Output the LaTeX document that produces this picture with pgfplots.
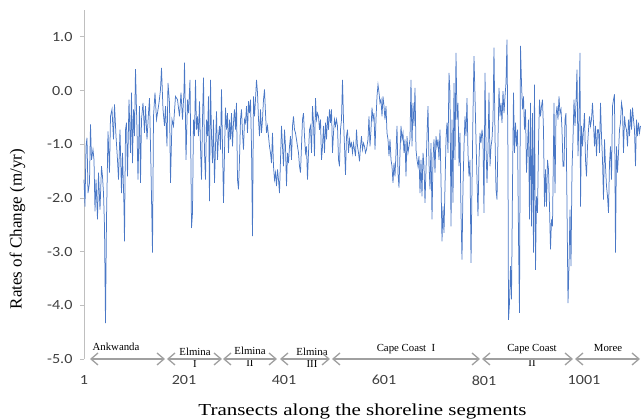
\documentclass[border=0pt]{standalone}
\usepackage{fontspec}
\setmainfont{Liberation Serif}
\newfontfamily\widerm[FakeStretch=1.25]{Liberation Serif}
\newfontfamily\tickfont[FakeStretch=1.15]{Carlito}
\usepackage{pgfplots}
\pgfplotsset{compat=1.18}
\usetikzlibrary{arrows.meta}

\definecolor{rate}{RGB}{74,120,198}
\definecolor{segarrow}{RGB}{160,160,160}
\definecolor{axgray}{RGB}{191,191,191}
\definecolor{ticktext}{RGB}{64,64,64}

\begin{document}
\begin{tikzpicture}
\begin{axis}[
    name=ax,
    scale only axis,
    width=557pt, height=349pt,
    xmin=1, xmax=1115, ymin=-5, ymax=1.5,
    clip=false,
    axis y line*=left,
    axis x line*=bottom,
    x axis line style={draw=none},
    y axis line style={draw=axgray, line width=0.8pt, -},
    xtick={1,201,401,601,801,1001},
    xticklabels={1,201,401,601,801,1001},
    xtick style={draw=none},
    ytick={-5,-4,-3,-2,-1,0,1},
    yticklabels={-5.0,-4.0,-3.0,-2.0,-1.0,0.0,1.0},
    ytick style={draw=axgray, line width=0.8pt},
    tick align=outside,
    major tick length=4pt,
    ticklabel style={font=\tickfont\fontsize{14}{15}\selectfont, text=ticktext},
    xticklabel style={yshift=-9pt},
    yticklabel style={xshift=-4pt},
    xlabel={Transects along the shoreline segments},
    xlabel style={font=\widerm\fontsize{16.8}{18}\selectfont, at={(axis description cs:0.5,0)}, anchor=center, yshift=-52pt},
    ylabel={Rates of Change (m/yr)},
    ylabel style={font=\fontsize{17}{18}\selectfont, at={(axis description cs:-0.1194,0.372)}, anchor=center, rotate=0},
]

\addplot[rate, line width=0.75pt] coordinates {
(1,-1.66)(3,-2.16)(5,-1.04)(7,-0.88)(9,-1.91)(12,-1.72)(14,-0.63)(16,-1.29)(19,-1.10)(21,-1.29)
(23,-2.25)(25,-1.66)(28,-2.40)(30,-1.53)(33,-2.22)(36,-1.41)(38,-1.60)(40,-1.91)(42,-2.53)(44,-4.33)
(46,-2.40)(49,-0.76)(52,-1.53)(54,-0.48)(57,-0.35)(60,-0.91)(62,-0.26)(65,-0.85)(68,-1.29)(70,-1.66)
(73,-0.73)(76,-1.91)(78,-1.16)(81,-2.16)(82,-2.81)(84,-0.73)(86,-0.60)(88,-1.60)(91,-0.17)(94,-1.16)
(96,-0.04)(98,-1.35)(100,-0.35)(102,-0.85)(104,0.40)(107,-0.73)(109,-1.66)(112,-0.29)(114,-1.72)(116,-0.54)
(119,-0.23)(122,-0.79)(124,-0.29)(127,-0.91)(130,-0.42)(132,-0.14)(135,-1.47)(138,-3.02)(140,-0.48)(143,-0.04)
(146,-0.54)(148,-0.42)(151,-0.23)(154,0.02)(156,0.42)(159,-0.35)(162,-0.66)(164,-0.29)(167,-1.04)(169,0.14)
(172,-0.23)(174,-1.72)(177,-0.54)(180,-0.66)(184,-0.11)
(188,-0.17)(192,-0.48)(195,-0.04)(198,-0.54)(201,-0.01)(202,0.52)(204,-0.54)(205,-1.29)(208,-0.17)(210,-0.42)
(213,0.20)(215,-1.47)(216,-2.56)(218,-2.28)(220,-0.54)(222,-0.85)(224,0.20)(226,-0.73)(228,-0.48)(230,-0.85)
(232,-0.20)(234,-1.04)(236,-1.66)(238,-0.54)(240,0.24)(242,-1.16)(244,-1.66)(246,-0.54)(248,-0.85)(250,-0.11)
(252,-2.06)(254,0.20)(256,-0.85)(258,-1.35)(260,-0.54)(262,-1.72)(264,-1.04)(266,-0.39)(268,-1.29)(270,-0.85)
(272,-0.66)(274,-1.10)(276,0.02)(278,-1.04)(280,-2.09)(282,-1.16)(284,-0.32)(286,-0.73)(288,-0.42)(290,-1.16)
(292,-0.54)(294,-0.91)(296,-0.42)(298,-1.04)(300,-0.60)(302,-0.35)(304,-0.73)(306,-0.23)(308,-1.66)(310,-1.84)
(312,-1.29)(314,-0.54)(316,-0.35)(318,-0.79)(320,-1.10)(322,-0.54)(324,-0.60)(326,-0.29)(328,-0.79)(330,-0.20)
(332,-0.42)(334,-0.17)(336,-1.04)(338,-2.71)(340,-0.11)(342,-0.48)(344,-0.17)(346,0.20)(348,-0.04)(350,-0.54)
(352,-0.85)(354,-0.35)(356,-0.79)(358,-0.54)(360,-0.17)(362,0.02)(364,-0.42)(366,-0.79)(368,-0.66)(370,-0.85)
(372,-1.04)(374,-1.16)(376,-1.35)
(378,-0.79)(380,-1.41)(382,-1.66)(384,-1.53)(386,-1.78)(388,-1.47)(390,-1.66)(392,-1.91)(394,-1.29)(396,-0.66)
(398,-1.04)(400,-1.41)(402,-0.73)(404,-1.04)(406,-1.78)(408,-1.16)(410,-1.35)(412,-1.04)(414,-0.85)(416,-1.29)
(418,-0.66)(420,-0.48)(422,-0.73)(424,-0.79)(426,-0.91)(428,-1.04)(430,-1.16)(432,-1.41)(434,-1.53)(436,-1.04)
(438,-0.54)(440,-0.42)(442,-0.85)(444,-1.16)(446,-1.04)(448,-1.66)(450,-1.16)(452,-0.73)(454,-0.66)(456,-1.16)
(458,-0.29)(460,-0.60)(462,-1.22)(464,-0.14)(466,-0.54)(468,-0.42)(470,-0.48)(472,-0.73)(474,-0.54)(476,-1.29)
(478,-1.04)(480,-0.66)(482,-1.16)(484,-0.60)(486,-0.91)(488,-0.48)(490,-0.73)(492,-0.35)(494,-0.60)(496,-0.35)
(498,-1.16)(500,-0.79)(502,-0.54)(504,-0.66)(506,-0.54)(508,-0.66)(510,-1.29)(512,-1.41)(514,-0.73)(516,-0.54)
(518,0.20)(520,-0.54)(522,-1.04)(524,-1.57)(526,-0.85)(528,-0.73)(530,-1.16)(532,-0.91)(534,-1.04)(536,-0.98)
(538,-1.16)(540,-0.98)(542,-1.10)(544,-1.22)(546,-0.73)(548,-1.04)(550,-1.16)(552,-1.32)(554,-1.04)(556,-0.85)
(558,-1.10)(560,-0.98)(562,-1.04)(564,-1.16)
(566,-1.10)(569,-0.91)(571,-0.48)(573,-1.04)(575,-0.73)(577,-0.32)(579,-0.54)(581,-0.42)(583,-1.10)(585,-0.54)
(587,-0.11)(589,0.11)(591,-0.04)(593,-0.23)(595,-0.17)(597,-0.48)(599,-0.11)(601,-0.29)(603,-0.54)(605,-0.29)
(607,-0.79)(609,-0.91)(611,-1.22)(613,-0.91)(615,-1.29)(617,-1.41)(619,-1.72)(621,-1.35)(623,-1.60)(625,-1.16)
(627,-0.66)(629,-1.53)(631,-1.81)(633,-1.16)(635,-0.66)(637,-0.91)(639,-0.79)(641,-1.16)(643,-0.91)(645,-1.60)
(647,-0.85)(649,-1.16)(651,-1.04)(653,-0.91)(655,0.20)(657,-1.04)(659,-0.23)(661,-0.66)(663,0.05)(665,-1.10)
(667,-1.29)(669,-1.41)(671,-1.22)(673,-1.91)(675,-1.29)(677,-1.97)(679,-1.16)(681,-1.41)(683,-2.09)(685,-1.47)
(687,-0.85)(689,-0.29)(691,-1.35)(693,-1.84)(695,-0.98)(697,-2.40)(699,-1.29)(701,-0.91)(703,-1.53)(705,-0.85)
(707,-1.04)(709,-0.91)(711,-1.29)(713,-0.73)(715,-1.66)(717,-2.81)(719,-2.16)(721,-2.65)(723,-1.78)(725,-0.91)
(727,-0.60)(729,-1.16)(731,0.33)(733,-0.04)(735,-2.53)(737,-0.54)(739,-2.09)(741,0.14)(743,-1.29)(745,0.70)
(747,-0.54)(749,-0.23)(751,-1.41)
(753,-0.79)(755,-2.28)(757,-3.15)(759,-1.78)(761,-1.04)(763,-0.48)(765,-0.85)(767,-0.14)(769,-1.16)(771,-1.60)
(773,-1.29)(775,-3.21)(777,-1.78)(779,-0.42)(781,0.64)(783,-0.11)(785,-0.91)(787,-1.66)(789,-2.34)(791,-1.29)
(793,-0.79)(795,-0.98)(797,-0.73)(799,-0.91)(801,-2.28)(803,0.33)(805,-1.04)(807,-1.72)(809,-1.10)(811,-0.04)
(813,-1.41)(815,-1.04)(817,-0.91)(819,-0.54)(821,0.80)(823,-0.85)(825,-1.84)(827,-2.03)(829,-0.91)(831,0.05)
(833,-0.48)(835,-0.23)(837,-0.60)(839,-0.01)(841,-0.42)(843,-0.11)(845,0.14)(847,0.95)(849,-1.29)(850,-4.27)
(852,-3.96)(854,-3.27)(856,-3.89)(858,-1.78)(860,-0.04)(862,-1.16)(864,-0.60)(866,-1.04)(868,-0.73)(870,-2.71)
(872,-4.14)(874,0.83)(876,0.14)(878,-0.35)(880,-0.11)(882,-0.73)(884,-0.35)(886,-1.53)(888,-1.04)(890,-0.54)
(892,-2.40)(894,-0.23)(896,-2.53)(898,-0.42)(900,-3.02)(902,0.11)(904,-3.34)(906,-1.97)(908,-2.28)(910,-1.04)
(912,-0.17)(914,-0.48)(916,-0.29)(918,-0.17)(920,-0.73)(922,-2.16)(924,-1.47)(926,-2.16)(928,-1.29)(930,-1.47)
(932,-2.16)(934,-2.96)(936,-2.40)(938,-2.53)(940,-1.04)
(941,-0.23)(943,-1.91)(945,-0.48)(947,-0.29)(949,-0.54)(951,-0.11)(953,-0.42)(955,-0.35)(957,-0.73)(959,-1.41)
(961,-1.41)(963,-0.54)(965,-0.42)(967,-2.16)(969,-3.96)(971,-3.27)(973,-2.22)(975,-3.27)(977,-1.47)(979,-0.91)
(981,-0.17)(983,-0.66)(985,-0.23)(987,0.39)(989,-1.22)(991,-0.48)(993,0.70)(994,-2.16)(996,-0.66)(998,-1.04)
(1000,-0.73)(1002,-0.42)(1004,-1.29)(1006,-1.60)(1008,-1.04)(1010,-0.73)(1012,-0.48)(1014,-0.66)(1016,-0.54)(1018,-0.23)
(1020,-0.60)(1022,-1.04)(1024,-0.66)(1026,-1.22)(1028,-0.73)(1030,-0.73)(1032,-1.16)(1034,-0.23)(1036,-0.85)(1038,-1.29)
(1040,-2.03)(1042,-0.91)(1044,-1.41)(1046,-1.78)(1048,-1.97)(1050,-2.28)(1052,-1.35)(1054,-1.04)(1056,-1.66)(1058,-0.29)
(1060,-0.17)(1062,-0.07)(1064,-3.02)(1066,-1.04)(1068,-1.53)(1070,-1.16)(1072,-0.73)(1074,-0.60)(1076,-0.23)(1078,-0.35)
(1080,-1.16)(1082,-0.48)(1084,-0.66)(1086,-0.73)(1088,-1.04)(1090,-0.54)(1092,-0.85)(1094,-0.35)(1096,-0.73)(1098,-0.32)
(1100,-0.54)(1102,-0.73)(1104,-1.41)(1106,-0.54)(1108,-0.85)(1110,-0.60)(1112,-0.79)(1114,-0.66)
};

% segment names
\begin{scope}[font=\fontsize{10.8}{11}\selectfont, inner sep=0pt]
\node at (axis cs:65,-4.77) {Ankwanda};
\node at (axis cs:223,-4.86) {Elmina};
\node at (axis cs:223,-5.09) {I};
\node at (axis cs:333,-4.84) {Elmina};
\node at (axis cs:333,-5.08) {II};
\node at (axis cs:457,-4.86) {Elmina};
\node at (axis cs:457,-5.09) {III};
\node at (axis cs:645,-4.82) {Cape Coast\ \ I};
\node at (axis cs:897,-4.82) {Cape Coast};
\node at (axis cs:897,-5.08) {II};
\node at (axis cs:1049,-4.80) {Moree};
\end{scope}

% segment extents
\begin{scope}[segarrow, line width=1.3pt, {Straight Barb[length=7pt,width=12pt]}-{Straight Barb[length=7pt,width=12pt]}]
\draw (axis cs:13,-5) -- (axis cs:163,-5);
\draw (axis cs:167,-5) -- (axis cs:277,-5);
\draw (axis cs:279,-5) -- (axis cs:387,-5);
\draw (axis cs:393,-5) -- (axis cs:493,-5);
\draw (axis cs:497,-5) -- (axis cs:793,-5);
\draw (axis cs:797,-5) -- (axis cs:979,-5);
\draw (axis cs:983,-5) -- (axis cs:1113,-5);
\end{scope}
\end{axis}
\pgfresetboundingbox
\path[use as bounding box] ([xshift=-84pt,yshift=-61pt]ax.south west) rectangle ([yshift=10pt]ax.north east);
\end{tikzpicture}
\end{document}
